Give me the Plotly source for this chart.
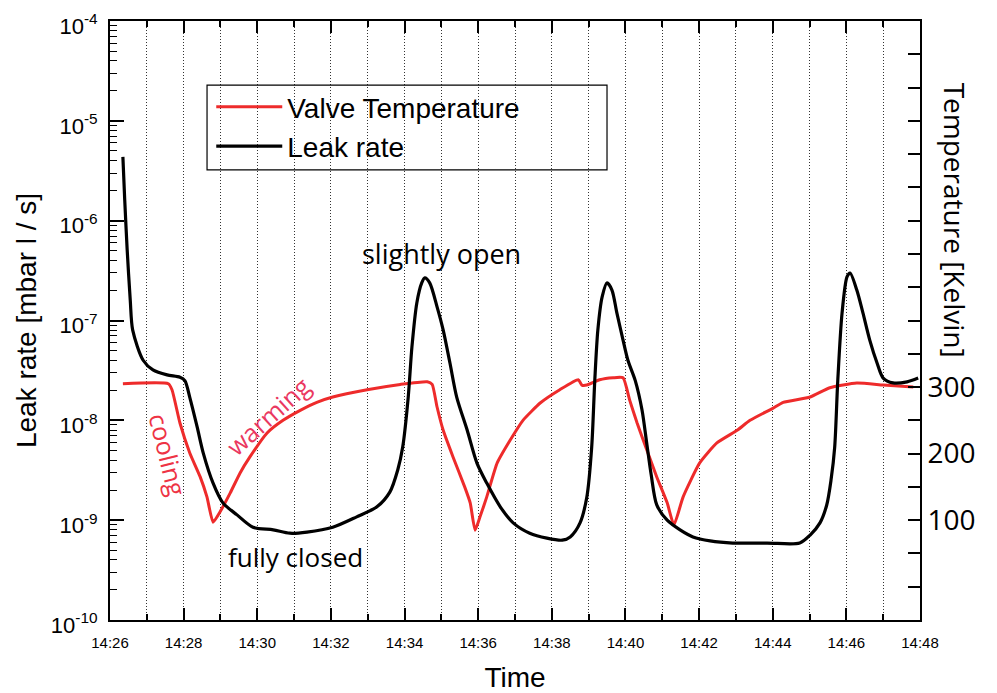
import plotly.graph_objects as go

DAY = "2010-01-01 "

# Leak rate (black, left log axis)
leak_time = ["14:26:21", "14:26:24", "14:26:28", "14:26:33", "14:26:37", "14:26:54", "14:27:10",
             "14:27:33", "14:27:54", "14:28:02", "14:28:10", "14:28:22", "14:28:32", "14:28:48",
             "14:29:04", "14:29:27", "14:29:53", "14:30:26", "14:30:53", "14:31:21", "14:32:03",
             "14:32:42", "14:33:15", "14:33:36", "14:33:49", "14:33:57", "14:34:06", "14:34:12",
             "14:34:20", "14:34:28", "14:34:33", "14:34:41", "14:34:53", "14:35:03", "14:35:14",
             "14:35:25", "14:35:42", "14:35:58", "14:36:14", "14:36:36", "14:36:57", "14:37:24",
             "14:37:52", "14:38:17", "14:38:30", "14:38:46", "14:38:57", "14:39:05", "14:39:10",
             "14:39:15", "14:39:22", "14:39:30", "14:39:38", "14:39:46", "14:39:56", "14:40:04",
             "14:40:16", "14:40:27", "14:40:35", "14:40:42", "14:40:51", "14:41:08", "14:41:29",
             "14:41:50", "14:42:18", "14:42:55", "14:43:51", "14:44:44", "14:45:01", "14:45:17",
             "14:45:28", "14:45:35", "14:45:41", "14:45:46", "14:45:53", "14:46:01", "14:46:06",
             "14:46:17", "14:46:27", "14:46:38", "14:46:50", "14:47:00", "14:47:16", "14:47:39",
             "14:47:57"]
leak_rate = [4.35e-6, 1.61e-6, 5.1e-7, 1.6e-7, 8.0e-8, 4.0e-8, 3.2e-8,
             2.85e-8, 2.7e-8, 2.5e-8, 1.7e-8, 8.6e-9, 4.7e-9, 2.35e-9,
             1.49e-9, 1.13e-9, 8.5e-10, 8.0e-10, 7.4e-10, 7.6e-10, 8.5e-10,
             1.08e-9, 1.36e-9, 1.91e-9, 3.2e-9, 5.4e-9, 1.71e-8, 5.4e-8,
             1.5e-7, 2.38e-7, 2.67e-7, 2.38e-7, 1.37e-7, 8.0e-8, 3.75e-8,
             1.71e-8, 8.0e-9, 3.73e-9, 2.35e-9, 1.36e-9, 9.4e-10, 7.4e-10,
             6.6e-10, 6.3e-10, 6.8e-10, 9.4e-10, 1.7e-9, 5.4e-9, 2.5e-8,
             8.0e-8, 1.72e-7, 2.38e-7, 2.02e-7, 1.19e-7, 6.4e-8, 4.0e-8,
             2.5e-8, 1.27e-8, 5.7e-9, 2.83e-9, 1.42e-9, 1.0e-9, 8.0e-10,
             6.8e-10, 6.2e-10, 5.9e-10, 5.9e-10, 5.9e-10, 7.1e-10, 9.4e-10,
             1.42e-9, 2.52e-9, 5.4e-9, 2.5e-8, 1.19e-7, 2.73e-7, 2.99e-7,
             2.02e-7, 1.19e-7, 6.4e-8, 3.75e-8, 2.65e-8, 2.37e-8, 2.43e-8,
             2.65e-8]

# Valve temperature (red, right linear axis)
temp_time = ["14:26:21", "14:27:35", "14:27:41", "14:27:54", "14:28:10", "14:28:27", "14:28:38",
             "14:28:48", "14:28:59", "14:29:16", "14:29:32", "14:29:48", "14:30:16", "14:30:42",
             "14:31:10", "14:31:37", "14:32:03", "14:32:59", "14:33:53", "14:34:37", "14:34:45",
             "14:34:53", "14:35:03", "14:35:19", "14:35:38", "14:35:47", "14:35:55", "14:36:03",
             "14:36:14", "14:36:31", "14:36:52", "14:37:13", "14:37:41", "14:38:13", "14:38:43",
             "14:38:49", "14:38:57", "14:39:18", "14:39:40", "14:39:56", "14:40:07", "14:40:19",
             "14:40:35", "14:40:51", "14:41:08", "14:41:19", "14:41:34", "14:42:01", "14:42:29",
             "14:43:02", "14:43:23", "14:44:00", "14:44:17", "14:45:01", "14:45:33", "14:46:17",
             "14:47:00", "14:47:49"]
temp_kelvin = [305, 305, 296, 246, 201, 165, 135,
               97, 112, 141, 171, 195, 231, 250,
               265, 277, 285, 296, 304, 308, 304,
               270, 235, 195, 150, 126, 85, 105,
               135, 186, 220, 250, 276, 296, 311,
               303, 303, 311, 314, 314, 280, 246,
               205, 165, 126, 93, 135, 186, 216,
               235, 250, 268, 277, 285, 299, 306,
               303, 300]

x_tick_labels = ["14:26", "14:28", "14:30", "14:32", "14:34", "14:36",
                 "14:38", "14:40", "14:42", "14:44", "14:46", "14:48"]
left_exponents = [-10, -9, -8, -7, -6, -5, -4]
right_tick_values = [0, 50, 100, 150, 200, 250, 300, 350, 400, 450, 500, 550, 600, 650, 700, 750, 800]
right_tick_labels = ["", "", "100", "", "200", "", "300", "", "", "", "", "", "", "", "", "", ""]

ARIAL = "Arial, Liberation Sans, sans-serif"
MYRIAD = "Open Sans, Noto Sans, sans-serif"
GRID_DASH = "1px,2px"

fig = go.Figure()
fig.add_trace(go.Scatter(
    x=[DAY + t for t in temp_time], y=temp_kelvin, yaxis="y",
    name="Valve Temperature", mode="lines",
    line=dict(color="#ee2b2b", width=3, shape="spline", smoothing=0.5)))
fig.add_trace(go.Scatter(
    x=[DAY + t for t in leak_time], y=leak_rate, yaxis="y2",
    name="Leak rate", mode="lines",
    line=dict(color="black", width=3.2, shape="spline", smoothing=0.8)))

minor_log = [k * 10.0 ** e for e in range(-10, -4) for k in range(2, 10)]

# page body adds an 8px offset; the figure is sized and margined to compensate
fig.update_layout(
    width=989, height=685,
    margin=dict(l=102, r=77, t=13, b=73, autoexpand=False),
    paper_bgcolor="white", plot_bgcolor="white",
    showlegend=True,
    legend=dict(x=0.125, y=0.898, xanchor="left", yanchor="top",
                bgcolor="rgba(0,0,0,0)", borderwidth=0, itemwidth=66,
                font=dict(family=ARIAL, size=28, color="black"),
                tracegroupgap=0),
    xaxis=dict(
        type="date", automargin=False,
        range=[DAY + "14:26:00", DAY + "14:48:00"],
        tick0=DAY + "14:26:00", dtick=120000, tickformat="%H:%M",
        ticks="inside", ticklen=12, tickwidth=1.5, tickcolor="black",
        ticklabelstandoff=8, ticklabeloverflow="allow",
        showline=True, linecolor="black", linewidth=2, mirror="ticks",
        showgrid=True, griddash=GRID_DASH, gridcolor="#333", gridwidth=1,
        minor=dict(dtick=60000, ticks="inside", ticklen=6, tickcolor="black",
                   showgrid=True, griddash=GRID_DASH, gridcolor="#333", gridwidth=1),
        tickfont=dict(family=ARIAL, size=15, color="black"),
        title=dict(text="Time", font=dict(family=ARIAL, size=28, color="black"), standoff=22),
        zeroline=False,
    ),
    yaxis=dict(
        side="right", range=[-50, 850], automargin=False,
        tickmode="array", tickvals=right_tick_values, ticktext=right_tick_labels,
        ticks="inside", ticklen=12, tickwidth=1.5, tickcolor="black",
        ticklabeloverflow="allow",
        showline=True, linecolor="black", linewidth=2,
        showgrid=False, zeroline=False,
        tickfont=dict(family=MYRIAD, size=28, color="black"),
    ),
    yaxis2=dict(
        type="log", side="left", overlaying="y", range=[-10, -4], automargin=False,
        tickmode="array", tickvals=[10.0 ** e for e in left_exponents],
        ticktext=["10<sup>%d</sup>" % e for e in left_exponents],
        ticks="inside", ticklen=14, tickwidth=1.5, tickcolor="black",
        ticklabelstandoff=6, ticklabelshift=5, ticklabeloverflow="allow",
        minor=dict(tickmode="array", tickvals=minor_log, ticks="inside", ticklen=7,
                   tickcolor="black", tickwidth=1, showgrid=False),
        showline=True, linecolor="black", linewidth=2,
        showgrid=False, zeroline=False,
        tickfont=dict(family=ARIAL, size=22, color="black"),
        title=dict(text="Leak rate [mbar l / s]", font=dict(family=ARIAL, size=28, color="black"),
                   standoff=6),
    ),
    shapes=[dict(type="rect", xref="paper", yref="paper",
                 x0=0.1198, x1=0.6136, y0=0.7513, y1=0.893,
                 line=dict(color="black", width=1.2), fillcolor="rgba(0,0,0,0)")],
    annotations=[
        dict(text="Temperature [Kelvin]", xref="paper", yref="paper", x=1.043, y=0.667,
             xanchor="center", yanchor="middle",
             textangle=90, showarrow=False,
             font=dict(family=MYRIAD, size=28, color="black")),
        dict(text="slightly open", xref="x", yref="y2", x=DAY + "14:35:01", y=-6.324,
             showarrow=False, font=dict(family=MYRIAD, size=27, color="black")),
        dict(text="fully closed", xref="x", yref="y2", x=DAY + "14:31:02", y=-9.369,
             showarrow=False, font=dict(family=MYRIAD, size=26, color="black")),
        dict(text="cooling", xref="x", yref="y2", x=DAY + "14:27:35", y=-8.347,
             textangle=76, showarrow=False, font=dict(family=MYRIAD, size=25, color="#ee3344")),
        dict(text="warming", xref="x", yref="y2", x=DAY + "14:30:17", y=-7.957,
             textangle=-42, showarrow=False, font=dict(family=MYRIAD, size=25, color="#ea3860")),
    ],
)

fig.write_html("out.html")
